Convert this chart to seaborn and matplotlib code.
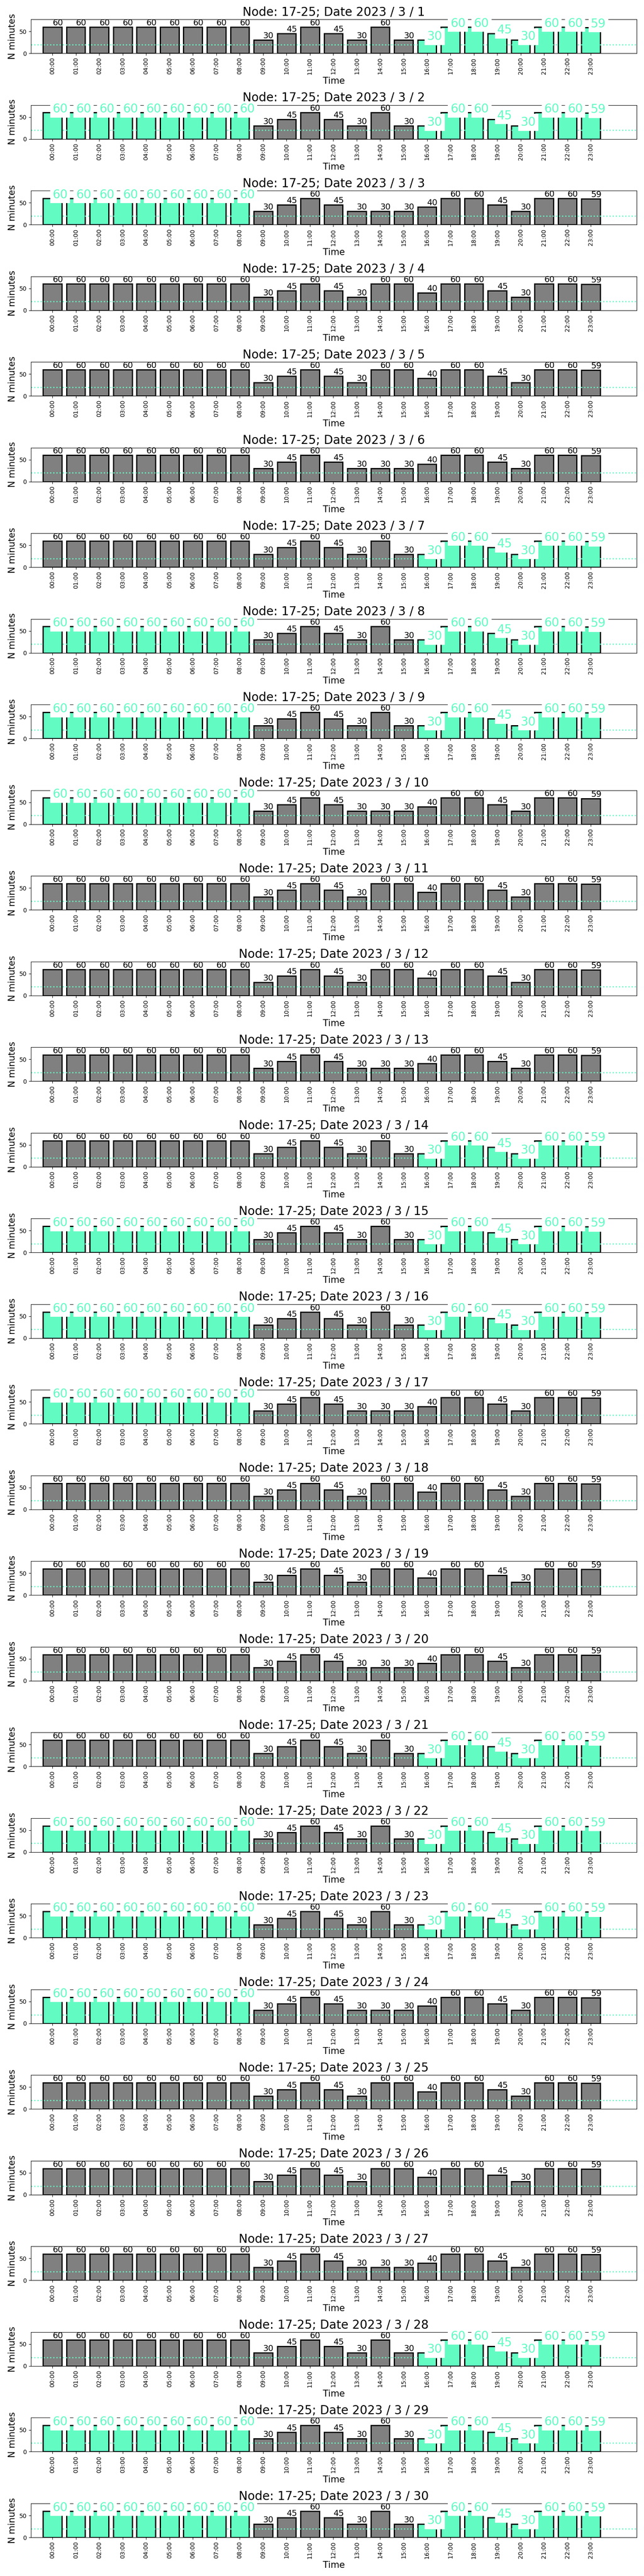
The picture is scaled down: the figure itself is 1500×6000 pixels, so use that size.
import pandas as pd
import seaborn as sns
import matplotlib.pyplot as plt

hours = ["00:00", "01:00", "02:00", "03:00", "04:00", "05:00", "06:00", "07:00",
         "08:00", "09:00", "10:00", "11:00", "12:00", "13:00", "14:00", "15:00",
         "16:00", "17:00", "18:00", "19:00", "20:00", "21:00", "22:00", "23:00"]

# three daily profiles that repeat through the month
pattern_a = [60, 60, 60, 60, 60, 60, 60, 60, 60, 30, 45, 60, 45, 30, 60, 30, 30, 60, 60, 45, 30, 60, 60, 59]
pattern_b = [60, 60, 60, 60, 60, 60, 60, 60, 60, 30, 45, 60, 45, 30, 30, 30, 40, 60, 60, 45, 30, 60, 60, 59]
pattern_c = [60, 60, 60, 60, 60, 60, 60, 60, 60, 30, 45, 60, 45, 30, 60, 60, 40, 60, 60, 45, 30, 60, 60, 59]

days = list(range(1, 31))
day_pattern = "AABCCBAAABCCBAAABCCBAAABCCBAAA"

# hours highlighted in cyan
morning_hours = [0, 1, 2, 3, 4, 5, 6, 7, 8]
evening_hours = [16, 17, 18, 19, 20, 21, 22, 23]
morning_days = [2, 3, 8, 9, 10, 15, 16, 17, 22, 23, 24, 29, 30]
evening_days = [1, 2, 7, 8, 9, 14, 15, 16, 21, 22, 23, 28, 29, 30]

threshold = 20

patterns = {'A': pattern_a, 'B': pattern_b, 'C': pattern_c}
gray = '#808080'
cyan = '#62fcc3'

fig, axes = plt.subplots(len(days), 1, figsize=(15, 60))
plt.subplots_adjust(left=0.048, right=0.9887, top=0.9925, bottom=0.015, hspace=1.525)

for ax, day, code in zip(axes, days, day_pattern):
    df = pd.DataFrame({'time': hours, 'minutes': patterns[code]})
    flagged = []
    if day in morning_days:
        flagged += morning_hours
    if day in evening_days:
        flagged += evening_hours
    df['flag'] = df.index.isin(flagged)

    sns.barplot(data=df, x='time', y='minutes', order=hours, color=gray, saturation=1,
                edgecolor='black', linewidth=2, width=0.8, errorbar=None, ax=ax)
    sub = df[df['flag']]
    if len(sub):
        sns.barplot(data=sub, x='time', y='minutes', order=hours, color=cyan, saturation=1,
                    edgecolor='black', linewidth=2, width=0.8, errorbar=None, ax=ax)
    ax.axhline(threshold, color=cyan, linestyle=':', linewidth=2)

    for i, row in df.iterrows():
        if row['flag']:
            ax.text(i, row['minutes'], str(row['minutes']), color=cyan, fontsize=20,
                    bbox=dict(facecolor='white', edgecolor='none', pad=4))
        else:
            ax.text(i, row['minutes'], str(row['minutes']), color='black', fontsize=14, va='bottom')

    ax.set_xlim(-0.92, 24.96)
    ax.set_ylim(0, 77.5)
    ax.set_yticks([0, 50])
    ax.tick_params(axis='x', labelrotation=90, labelsize=10)
    ax.tick_params(axis='y', labelsize=10)
    ax.set_title(f'Node: 17-25; Date 2023 / 3 / {day}', fontsize=20)
    ax.set_xlabel('Time', fontsize=15)
    ax.set_ylabel('N minutes', fontsize=15)

plt.savefig('out.png', dpi=100)
